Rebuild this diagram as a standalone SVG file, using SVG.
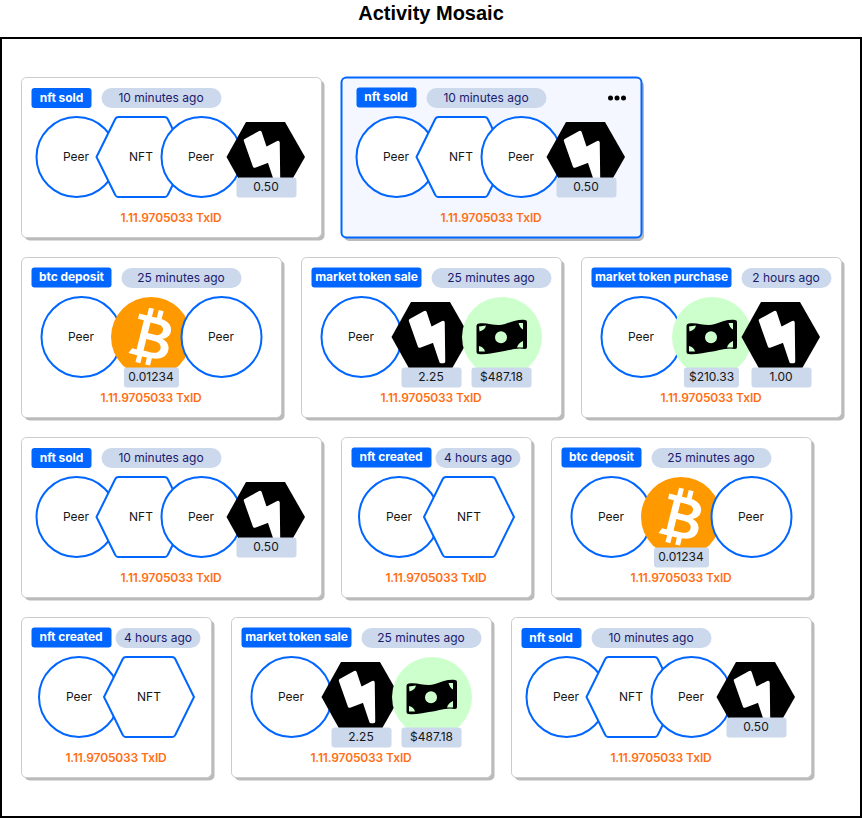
<svg xmlns="http://www.w3.org/2000/svg" xmlns:xlink="http://www.w3.org/1999/xlink" width="862" height="818" viewBox="0 0 862 818">
<style>
text{font-family:Inter,"Liberation Sans",sans-serif;text-anchor:middle}
.title{font-family:"Liberation Sans",Arial,sans-serif;font-size:20px;font-weight:700;fill:#000}
.frame{fill:#fff;stroke:#000;stroke-width:2}
.shadow{fill:#bbb}
.card{fill:#fff;stroke:#ccc;stroke-width:1}
.sel{fill:#f4f7ff;stroke:#0066ff;stroke-width:2}
.badge{fill:#0066ff}
.bt{font-size:12px;font-weight:700;fill:#fff;letter-spacing:-0.08px}
.pill{fill:#ccd8ec}
.pt{font-size:12px;fill:#1a1a6e}
.peer{fill:#fff;stroke:#0066ff;stroke-width:2}
.lab{font-size:12px;fill:#161616}
.amt{fill:#ccd8ec}
.tx{font-size:12px;font-weight:600;fill:#ff6f15;letter-spacing:-0.15px}
</style>
<defs>
<path id="nft" d="M-45,0L-26.500,-37.500Q-25.500,-40 -23,-40L23,-40Q25.500,-40 26.500,-37.500L45,0L26.500,37.500Q25.500,40 23,40L-23,40Q-25.500,40 -26.500,37.500Z" fill="#fff" stroke="#0066ff" stroke-width="2"/>
<g id="bolt">
<path d="M-39.500,0L-20,-35L19,-35L39,0L19,35L-20,35Z" fill="#000"/>
<path d="M-20.500,-16.500L-6,-24.500L-0.500,-8L12,-14.500L12.500,24.500L10,24.500L3,3.500L-11.500,9Z" fill="#fff" stroke="#fff" stroke-width="3.500" stroke-linejoin="round"/>
</g>
<g id="btc">
<circle r="40" fill="#ff9900"/>
<g transform="rotate(14)" fill="#fff">
<path fill-rule="evenodd" d="M-17,-20L-9,-20L-9,-28L-4,-28L-4,-20L1,-20L1,-28L6,-28L6,-20C15,-19 18,-14 18,-10C18,-5 15,-2 11,-1C17,0 20,4 20,9C20,16 14,20 6,20.500L6,28L1,28L1,21L-4,21L-4,28L-9,28L-9,21L-18,21L-15.500,15.500L-11,15.500L-11,-14.500L-17,-14.500ZM-4,-14L-4,-3L3,-3C8,-3 10,-6 10,-9C10,-12 8,-14 3,-14ZM-4,3L-4,15L4,15C9,15 12,12 12,9C12,5 9,3 4,3Z"/>
</g>
</g>
<g id="cash">
<circle r="40" fill="#ccffcc"/>
<path d="M-25.500,-11.500Q-25,-13.500 -23,-13.500C-14,-15 -6,-10 3,-13C10,-15.500 17,-18 23,-17Q25,-17 25,-15L25,10Q25,12 23,12C14,10 6,14 -3,15C-10,16 -17,18 -23.500,17Q-25.500,17 -25.500,15Z" fill="#000"/>
<circle cx="-1" cy="0.300" r="6" fill="#ccffcc"/>
<path d="M-23,-10.500L-16,-11.500Q-17,-7 -22.500,-5.500ZM16.500,-14L21,-14L21,-7.500Q18,-9 16.500,-14ZM-23,9Q-18,10 -17,14.500L-23,14.500ZM21,4Q16,6 15,10.500L21,10.500Z" fill="#ccffcc"/>
</g>
</defs>

<text class="title" x="431" y="20">Activity Mosaic</text>
<rect class="frame" x="1" y="38" width="860" height="779"/>

<g id="connectors"></g>

<g id="card-1">
<rect class="shadow" x="24.500" y="80.500" width="300" height="160" rx="5"/>
<rect class="card" x="21.500" y="77.500" width="300" height="160" rx="5"/>
<rect class="badge" x="31.500" y="88" width="60" height="20" rx="3"/><text class="bt" x="61.500" y="101.500">nft sold</text>
<rect class="pill" x="101.500" y="88" width="120" height="20" rx="10"/><text class="pt" x="161" y="102">10 minutes ago</text>
<circle class="peer" cx="76.500" cy="157" r="40"/><text class="lab" x="76" y="161">Peer</text>
<use href="#nft" x="141.500" y="157"/><text class="lab" x="141" y="161">NFT</text>
<circle class="peer" cx="201.500" cy="157" r="40"/><text class="lab" x="201" y="161">Peer</text>
<use href="#bolt" x="266" y="157"/>
<rect class="amt" x="236.500" y="177.500" width="60" height="20" rx="3"/><text class="lab" x="266" y="191">0.50</text>
<text class="tx" x="171" y="222">1.11.9705033 TxID</text>
</g>

<g id="card-2">
<rect class="shadow" x="344" y="81" width="300" height="160" rx="5"/>
<rect class="sel" x="341.500" y="77.500" width="300" height="160" rx="5"/>
<rect class="badge" x="356.500" y="87.500" width="60" height="20" rx="3"/><text class="bt" x="386" y="101">nft sold</text>
<rect class="pill" x="426.500" y="88" width="120" height="20" rx="10"/><text class="pt" x="486" y="102">10 minutes ago</text>
<circle cx="610.500" cy="98" r="2.500"/><circle cx="617" cy="98" r="2.500"/><circle cx="623.500" cy="98" r="2.500"/>
<circle class="peer" cx="396.500" cy="157" r="40"/><text class="lab" x="396" y="161">Peer</text>
<use href="#nft" x="461.500" y="157"/><text class="lab" x="461" y="161">NFT</text>
<circle class="peer" cx="521.500" cy="157" r="40"/><text class="lab" x="521" y="161">Peer</text>
<use href="#bolt" x="586" y="157"/>
<rect class="amt" x="556.500" y="177.500" width="60" height="20" rx="3"/><text class="lab" x="586" y="191">0.50</text>
<text class="tx" x="491" y="222">1.11.9705033 TxID</text>
</g>

<g id="card-3">
<rect class="shadow" x="24.500" y="260.500" width="260" height="160" rx="5"/>
<rect class="card" x="21.500" y="257.500" width="260" height="160" rx="5"/>
<rect class="badge" x="31.500" y="267.500" width="80" height="20" rx="3"/><text class="bt" x="71.500" y="281">btc deposit</text>
<rect class="pill" x="121.500" y="268" width="120" height="20" rx="10"/><text class="pt" x="181" y="282">25 minutes ago</text>
<circle class="peer" cx="81.500" cy="337" r="40"/><text class="lab" x="81" y="341">Peer</text>
<use href="#btc" x="151" y="337"/>
<circle class="peer" cx="221.500" cy="337" r="40"/><text class="lab" x="221" y="341">Peer</text>
<rect class="amt" x="124" y="367.500" width="55" height="20" rx="3"/><text class="lab" x="151" y="381">0.01234</text>
<text class="tx" x="151" y="402">1.11.9705033 TxID</text>
</g>

<g id="card-4">
<rect class="shadow" x="304.500" y="260.500" width="260" height="160" rx="5"/>
<rect class="card" x="301.500" y="257.500" width="260" height="160" rx="5"/>
<rect class="badge" x="311.500" y="267.500" width="110" height="20" rx="3"/><text class="bt" x="366.500" y="281">market token sale</text>
<rect class="pill" x="431.500" y="268" width="120" height="20" rx="10"/><text class="pt" x="491" y="282">25 minutes ago</text>
<circle class="peer" cx="361.500" cy="337" r="40"/><text class="lab" x="361" y="341">Peer</text>
<use href="#bolt" x="431" y="337"/>
<use href="#cash" x="502" y="337"/>
<rect class="amt" x="401.500" y="367.500" width="60" height="20" rx="3"/><text class="lab" x="431" y="381">2.25</text>
<rect class="amt" x="471.500" y="367.500" width="60" height="20" rx="3"/><text class="lab" x="501.500" y="381">$487.18</text>
<text class="tx" x="431" y="402">1.11.9705033 TxID</text>
</g>

<g id="card-5">
<rect class="shadow" x="584.500" y="260.500" width="260" height="160" rx="5"/>
<rect class="card" x="581.500" y="257.500" width="260" height="160" rx="5"/>
<rect class="badge" x="591.500" y="267.500" width="140" height="20" rx="3"/><text class="bt" x="661.500" y="281">market token purchase</text>
<rect class="pill" x="741.500" y="268" width="90" height="20" rx="10"/><text class="pt" x="786" y="282">2 hours ago</text>
<circle class="peer" cx="641.500" cy="337" r="40"/><text class="lab" x="641" y="341">Peer</text>
<use href="#cash" x="712" y="337"/>
<use href="#bolt" x="781" y="337"/>
<rect class="amt" x="684" y="367.500" width="55" height="20" rx="3"/><text class="lab" x="711.500" y="381">$210.33</text>
<rect class="amt" x="751.500" y="367.500" width="60" height="20" rx="3"/><text class="lab" x="781" y="381">1.00</text>
<text class="tx" x="711" y="402">1.11.9705033 TxID</text>
</g>

<g id="card-6">
<rect class="shadow" x="24.500" y="440.500" width="300" height="160" rx="5"/>
<rect class="card" x="21.500" y="437.500" width="300" height="160" rx="5"/>
<rect class="badge" x="31.500" y="448" width="60" height="20" rx="3"/><text class="bt" x="61.500" y="461.500">nft sold</text>
<rect class="pill" x="101.500" y="448" width="120" height="20" rx="10"/><text class="pt" x="161" y="462">10 minutes ago</text>
<circle class="peer" cx="76.500" cy="517" r="40"/><text class="lab" x="76" y="521">Peer</text>
<use href="#nft" x="141.500" y="517"/><text class="lab" x="141" y="521">NFT</text>
<circle class="peer" cx="201.500" cy="517" r="40"/><text class="lab" x="201" y="521">Peer</text>
<use href="#bolt" x="266" y="517"/>
<rect class="amt" x="236.500" y="537.500" width="60" height="20" rx="3"/><text class="lab" x="266" y="551">0.50</text>
<text class="tx" x="171" y="582">1.11.9705033 TxID</text>
</g>

<g id="card-7">
<rect class="shadow" x="344.500" y="440.500" width="190" height="160" rx="5"/>
<rect class="card" x="341.500" y="437.500" width="190" height="160" rx="5"/>
<rect class="badge" x="351.500" y="447.500" width="80" height="20" rx="3"/><text class="bt" x="391" y="461">nft created</text>
<rect class="pill" x="435.500" y="448" width="85" height="20" rx="10"/><text class="pt" x="478" y="462">4 hours ago</text>
<circle class="peer" cx="399" cy="517" r="40"/><text class="lab" x="399" y="521">Peer</text>
<use href="#nft" x="469" y="517"/><text class="lab" x="469" y="521">NFT</text>
<text class="tx" x="436" y="582">1.11.9705033 TxID</text>
</g>

<g id="card-8">
<rect class="shadow" x="554.500" y="440.500" width="260" height="160" rx="5"/>
<rect class="card" x="551.500" y="437.500" width="260" height="160" rx="5"/>
<rect class="badge" x="561.500" y="447.500" width="80" height="20" rx="3"/><text class="bt" x="601.500" y="461">btc deposit</text>
<rect class="pill" x="651.500" y="448" width="120" height="20" rx="10"/><text class="pt" x="711" y="462">25 minutes ago</text>
<circle class="peer" cx="611.500" cy="517" r="40"/><text class="lab" x="611" y="521">Peer</text>
<use href="#btc" x="681" y="517"/>
<circle class="peer" cx="751.500" cy="517" r="40"/><text class="lab" x="751" y="521">Peer</text>
<rect class="amt" x="654" y="547.500" width="55" height="20" rx="3"/><text class="lab" x="681" y="561">0.01234</text>
<text class="tx" x="681" y="582">1.11.9705033 TxID</text>
</g>

<g id="card-9">
<rect class="shadow" x="24.500" y="620.500" width="190" height="160" rx="5"/>
<rect class="card" x="21.500" y="617.500" width="190" height="160" rx="5"/>
<rect class="badge" x="31.500" y="627.500" width="80" height="20" rx="3"/><text class="bt" x="71" y="641">nft created</text>
<rect class="pill" x="115.500" y="628" width="85" height="20" rx="10"/><text class="pt" x="158" y="642">4 hours ago</text>
<circle class="peer" cx="79" cy="697" r="40"/><text class="lab" x="79" y="701">Peer</text>
<use href="#nft" x="149" y="697"/><text class="lab" x="149" y="701">NFT</text>
<text class="tx" x="116" y="762">1.11.9705033 TxID</text>
</g>

<g id="card-10">
<rect class="shadow" x="234.500" y="620.500" width="260" height="160" rx="5"/>
<rect class="card" x="231.500" y="617.500" width="260" height="160" rx="5"/>
<rect class="badge" x="241.500" y="627.500" width="110" height="20" rx="3"/><text class="bt" x="296.500" y="641">market token sale</text>
<rect class="pill" x="361.500" y="628" width="120" height="20" rx="10"/><text class="pt" x="421" y="642">25 minutes ago</text>
<circle class="peer" cx="291.500" cy="697" r="40"/><text class="lab" x="291" y="701">Peer</text>
<use href="#bolt" x="361" y="697"/>
<use href="#cash" x="432" y="697"/>
<rect class="amt" x="331.500" y="727.500" width="60" height="20" rx="3"/><text class="lab" x="361" y="741">2.25</text>
<rect class="amt" x="401.500" y="727.500" width="60" height="20" rx="3"/><text class="lab" x="431.500" y="741">$487.18</text>
<text class="tx" x="361" y="762">1.11.9705033 TxID</text>
</g>

<g id="card-11">
<rect class="shadow" x="514.500" y="620.500" width="300" height="160" rx="5"/>
<rect class="card" x="511.500" y="617.500" width="300" height="160" rx="5"/>
<rect class="badge" x="521.500" y="628" width="60" height="20" rx="3"/><text class="bt" x="551" y="641.500">nft sold</text>
<rect class="pill" x="591.500" y="628" width="120" height="20" rx="10"/><text class="pt" x="651" y="642">10 minutes ago</text>
<circle class="peer" cx="566.500" cy="697" r="40"/><text class="lab" x="566" y="701">Peer</text>
<use href="#nft" x="631.500" y="697"/><text class="lab" x="631" y="701">NFT</text>
<circle class="peer" cx="691.500" cy="697" r="40"/><text class="lab" x="691" y="701">Peer</text>
<use href="#bolt" x="756" y="697"/>
<rect class="amt" x="726.500" y="717.500" width="60" height="20" rx="3"/><text class="lab" x="756" y="731">0.50</text>
<text class="tx" x="661" y="762">1.11.9705033 TxID</text>
</g>
</svg>
